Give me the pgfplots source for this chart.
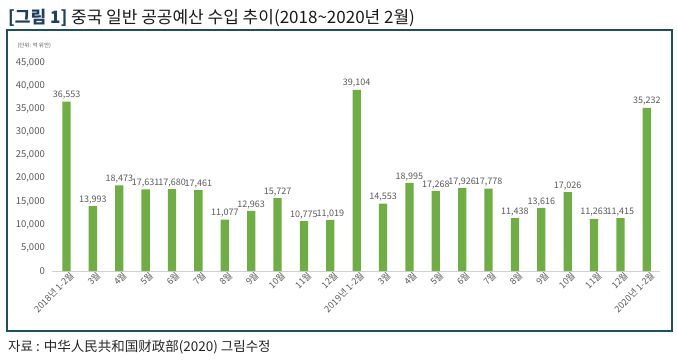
\documentclass[border=0pt]{standalone}
\usepackage{pgfplots}
\pgfplotsset{compat=1.18}
\usepackage{fontspec}
\setmainfont{Noto Sans CJK KR}
\newfontfamily\scfont{Noto Sans CJK SC}
\definecolor{bargreen}{HTML}{70AD47}
\definecolor{txtgray}{HTML}{595959}
\definecolor{frame}{HTML}{1F4E5F}
\definecolor{titleblue}{HTML}{1F3F5F}
\begin{document}
\begin{tikzpicture}[x=1pt,y=1pt]
\path[use as bounding box] (0,0) rectangle (677,362);
\draw[frame, line width=1.2pt] (7,31) rectangle (672,332);
\node[anchor=west, font=\fontsize{17}{19}\selectfont, inner sep=0pt] at (8,344) {\textbf{\color{titleblue}[그림 1]} \textcolor{black!90}{중국 일반 공공예산 수입 추이(2018\textasciitilde2020년 2월)}};
\node[anchor=west, font=\fontsize{5.5}{6}\selectfont, text=txtgray] at (14,316) {(단위: 억 위안)};
\node[anchor=west, font=\fontsize{13.5}{15}\selectfont, text=black!85, inner sep=0pt] at (8,15) {자료 : {\scfont 中华人民共和国财政部}(2020) 그림수정};
\begin{axis}[
  at={(52pt,91pt)}, anchor=south west,
  width=608pt, height=208.5pt, scale only axis,
  xmin=-0.55, xmax=22.5, ymin=0, ymax=45000,
  axis line style={draw=none},
  ytick={0,5000,...,45000},
  yticklabel style={font=\fontsize{9.5}{10}\selectfont, text=txtgray, inner sep=1pt, xshift=-6pt},
  /pgf/number format/assume math mode=true,
  /pgf/number format/1000 sep={,},
  scaled y ticks=false,
  major tick length=0pt,
  xtick=data,
  xticklabels={2018년 1-2월,3월,4월,5월,6월,7월,8월,9월,10월,11월,12월,2019년 1-2월,3월,4월,5월,6월,7월,8월,9월,10월,11월,12월,2020년 1-2월},
  xticklabel style={rotate=45, anchor=north east, font=\fontsize{9}{10}\selectfont, text=txtgray, inner sep=1pt, xshift=3pt, yshift=-1pt},
  nodes near coords,
  nodes near coords style={font=\fontsize{9}{10}\selectfont, text=txtgray, /pgf/number format/1000 sep={,}, /pgf/number format/assume math mode=true, inner sep=2pt},
  clip=false,
]
\draw[black!18, line width=0.6pt] (axis cs:-0.55,0) -- (axis cs:22.5,0);
\addplot[ybar, bar width=8.3pt, fill=bargreen, draw=none] coordinates {
(0,36553) (1,13993) (2,18473) (3,17631) (4,17680) (5,17461) (6,11077) (7,12963) (8,15727) (9,10775) (10,11019)
(11,39104) (12,14553) (13,18995) (14,17268) (15,17926) (16,17778) (17,11438) (18,13616) (19,17026) (20,11263) (21,11415)
(22,35232)
};
\end{axis}
\end{tikzpicture}
\end{document}
